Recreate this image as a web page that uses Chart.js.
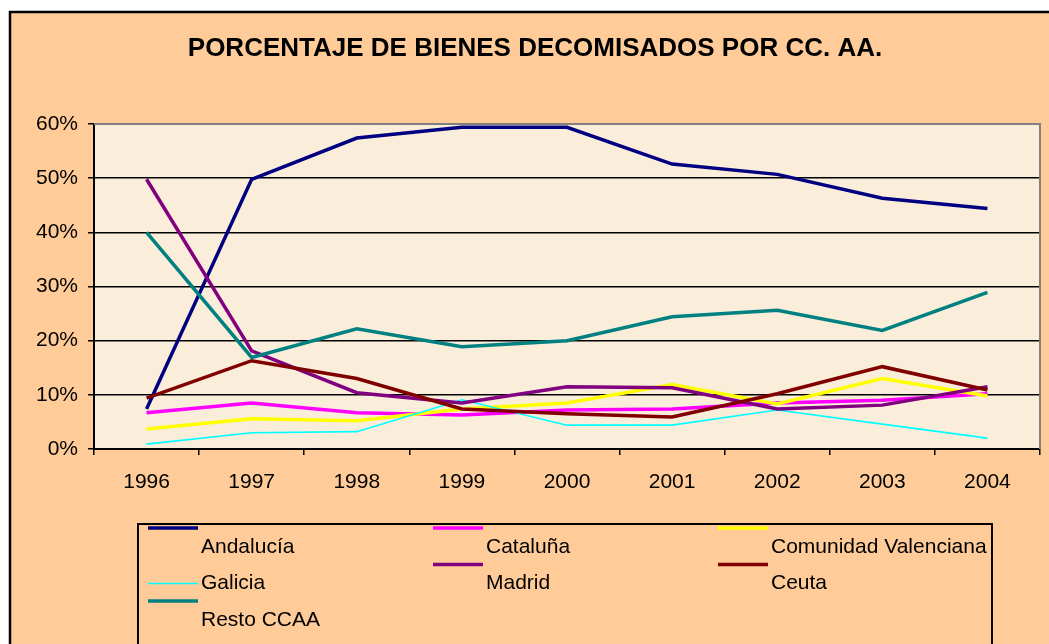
<!DOCTYPE html>
<html>
<head>
  <meta charset="utf-8">
  <script src="https://cdn.jsdelivr.net/npm/chart.js@4.4.1/dist/chart.umd.min.js"></script>
  <style>
    body { margin: 0; background: #fff; }
    canvas { display: block; }
  </style>
</head>
<body>
<canvas id="decomisos" width="1049" height="644"></canvas>

<script type="text/javascript">
    // datos (% sobre el total de bienes decomisados)
    const years = ['1996', '1997', '1998', '1999', '2000', '2001', '2002', '2003', '2004'];
    const yTicks = [0, 10, 20, 30, 40, 50, 60];

    const andalucia  = [7.4, 49.8, 57.4, 59.4, 59.4, 52.6, 50.7, 46.3, 44.4];
    const cataluna   = [6.7, 8.5, 6.7, 6.3, 7.2, 7.4, 8.5, 9.0, 10.2];
    const valenciana = [3.7, 5.6, 5.2, 7.4, 8.5, 11.9, 8.3, 13.0, 9.8];
    const galicia    = [0.9, 3.0, 3.2, 9.1, 4.4, 4.4, 7.2, 4.6, 2.0];
    const madrid     = [49.8, 18.1, 10.4, 8.5, 11.5, 11.3, 7.4, 8.1, 11.5];
    const ceuta      = [9.4, 16.3, 13.0, 7.4, 6.5, 5.9, 10.2, 15.2, 10.9];
    const resto      = [40.0, 16.9, 22.2, 18.9, 20.0, 24.4, 25.6, 21.9, 28.9];

    const seriesNames = ['Andalucía', 'Cataluña', 'Comunidad Valenciana', 'Galicia', 'Madrid', 'Ceuta', 'Resto CCAA'];
    const seriesData = [andalucia, cataluna, valenciana, galicia, madrid, ceuta, resto];
    const seriesColors = ['#000080', '#FF00FF', '#FFFF00', '#00FFFF', '#800080', '#800000', '#008080'];

    const FONT = '"Liberation Sans", Arial, sans-serif';
    const title = 'PORCENTAJE DE BIENES DECOMISADOS POR CC. AA.';

    let datasets = [];
    for (let i = 0; i < seriesNames.length; i++) {
        datasets.push({
            label: seriesNames[i],
            data: seriesData[i],
            borderColor: seriesColors[i],
            backgroundColor: seriesColors[i],
            borderWidth: seriesNames[i] == 'Galicia' ? 1.6 : 3.5,
            pointRadius: 0,
            tension: 0,
            order: seriesNames.length - i   // later series on top, like excel
        });
    }

    // frame, plot background, title and the excel-like legend
    const excelFrame = {
        id: 'excelFrame',
        beforeDraw(chart) {
            const ctx = chart.ctx;
            const a = chart.chartArea;
            ctx.save();
            ctx.fillStyle = '#ffffff';
            ctx.fillRect(0, 0, chart.width, chart.height);
            ctx.fillStyle = '#FFCC99';
            ctx.fillRect(10, 12, chart.width, chart.height);
            ctx.strokeStyle = '#000';
            ctx.lineWidth = 2.5;
            ctx.strokeRect(10, 12, chart.width + 10, chart.height + 10);

            ctx.fillStyle = '#FAEEDB';
            ctx.fillRect(a.left, a.top, a.right - a.left, a.bottom - a.top);

            ctx.fillStyle = '#000';
            ctx.font = 'bold 26px ' + FONT;
            ctx.textAlign = 'center';
            ctx.textBaseline = 'middle';
            ctx.fillText(title, 535, 49);
            ctx.restore();
        },
        beforeDatasetsDraw(chart) {
            const ctx = chart.ctx;
            const a = chart.chartArea;
            ctx.save();
            ctx.strokeStyle = '#808080';
            ctx.lineWidth = 2;
            ctx.beginPath();
            ctx.moveTo(a.left, a.top);
            ctx.lineTo(a.right, a.top);
            ctx.lineTo(a.right, a.bottom);
            ctx.stroke();
            ctx.restore();
        },
        afterDraw(chart) {
            const ctx = chart.ctx;
            ctx.save();
            ctx.strokeStyle = '#000';
            ctx.lineWidth = 2;
            ctx.strokeRect(138, 524, 854, 200);

            ctx.font = '21px ' + FONT;
            ctx.textAlign = 'left';
            ctx.textBaseline = 'middle';
            chart.data.datasets.forEach(function(ds, i) {
                let col = i % 3;
                let row = Math.floor(i / 3);
                let x = 148 + col * 285;
                let ty = 547 + row * 36.5;
                let ly = ds.borderWidth < 2 ? ty : ty - 19;
                ctx.strokeStyle = ds.borderColor;
                ctx.lineWidth = ds.borderWidth;
                ctx.beginPath();
                ctx.moveTo(x, ly);
                ctx.lineTo(x + 50, ly);
                ctx.stroke();
                ctx.fillStyle = '#000';
                ctx.fillText(ds.label, x + 53, ty);
            });
            ctx.restore();
        }
    };

    let ctx = document.getElementById('decomisos').getContext('2d');

    let chart = new Chart(ctx, {
        type: 'line',
        data: {
            labels: years,
            datasets: datasets
        },
        options: {
            responsive: false,
            animation: false,
            devicePixelRatio: 1,
            layout: {
                padding: { top: 124, right: 9, bottom: 135, left: 0 }
            },
            plugins: {
                legend: { display: false },
                title: { display: false },
                tooltip: { enabled: false }
            },
            scales: {
                x: {
                    offset: true,
                    grid: {
                        offset: true,
                        drawOnChartArea: false,
                        drawTicks: true,
                        tickLength: 6,
                        color: '#000',
                        lineWidth: 1.5
                    },
                    border: { color: '#000', width: 2 },
                    ticks: {
                        color: '#000',
                        padding: 15,
                        maxRotation: 0,
                        font: { family: FONT, size: 21 }
                    },
                    afterFit(scale) { scale.height = 60; }
                },
                y: {
                    min: yTicks[0],
                    max: yTicks[yTicks.length - 1],
                    afterBuildTicks(scale) {
                        scale.ticks = yTicks.map(v => ({ value: v }));
                    },
                    grid: {
                        color: '#000',
                        lineWidth: 1.5,
                        tickLength: 6
                    },
                    border: { color: '#000', width: 2 },
                    ticks: {
                        color: '#000',
                        padding: 10,
                        font: { family: FONT, size: 21 },
                        callback: function(v) { return v + '%'; }
                    },
                    afterFit(scale) { scale.width = 94; }
                }
            }
        },
        plugins: [excelFrame]
    });
</script>
</body>
</html>
